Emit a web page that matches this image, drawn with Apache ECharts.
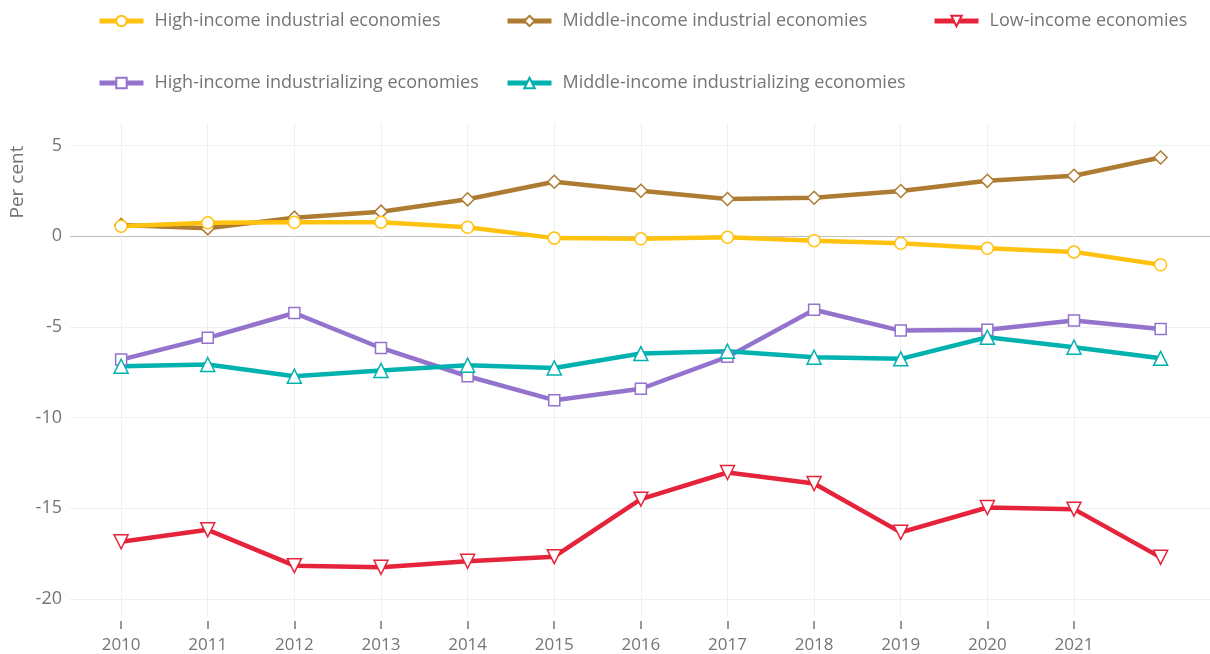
<!DOCTYPE html>
<html>
<head>
<meta charset="utf-8">
<script src="https://cdn.jsdelivr.net/npm/echarts@6/dist/echarts.min.js"></script>
<style>
  html, body { margin: 0; padding: 0; background: #fff; }
  #chart { width: 1210px; height: 654px; }
</style>
</head>
<body>
<div id="chart"></div>
<script>
// Years on the horizontal axis (2022 is plotted but not labelled)
const years = [2010, 2011, 2012, 2013, 2014, 2015, 2016, 2017, 2018, 2019, 2020, 2021, 2022];
const xTickYears = [2010, 2011, 2012, 2013, 2014, 2015, 2016, 2017, 2018, 2019, 2020, 2021];
const yTicks = [-20, -15, -10, -5, 0, 5];

const seriesNames = [
  'High-income industrial economies',
  'Middle-income industrial economies',
  'Low-income economies',
  'High-income industrializing economies',
  'Middle-income industrializing economies'
];

const highIndustrial = [0.55, 0.75, 0.77, 0.78, 0.50, -0.10, -0.14, -0.05, -0.24, -0.38, -0.66, -0.86, -1.57];
const middleIndustrial = [0.63, 0.44, 1.03, 1.36, 2.04, 3.01, 2.51, 2.06, 2.13, 2.50, 3.06, 3.34, 4.35];
const lowIncome = [-16.85, -16.19, -18.17, -18.26, -17.93, -17.67, -14.50, -13.03, -13.64, -16.33, -14.96, -15.05, -17.71];
const highIndustrializing = [-6.80, -5.60, -4.23, -6.16, -7.72, -9.04, -8.41, -6.65, -4.05, -5.20, -5.15, -4.64, -5.11];
const middleIndustrializing = [-7.17, -7.07, -7.72, -7.40, -7.11, -7.26, -6.47, -6.34, -6.67, -6.76, -5.57, -6.12, -6.73];

const FONT = "'Open Sans', 'Noto Sans', sans-serif";
const TEXT_GREY = '#757575';

function pairs(values) {
  return years.map((y, i) => [y, values[i]]);
}

function lineSeries(name, values, color, symbol, size, rotate) {
  return {
    name: name,
    type: 'line',
    data: pairs(values),
    symbol: symbol,
    symbolSize: size,
    symbolRotate: rotate || 0,
    showAllSymbol: true,
    lineStyle: { color: color, width: 4.5 },
    itemStyle: { color: '#fff', borderColor: color, borderWidth: 1.5 },
    emphasis: { disabled: true }
  };
}

const legendBase = {
  orient: 'vertical',
  itemWidth: 44,
  itemHeight: 13,
  itemGap: 44,
  lineStyle: { width: 5 },
  textStyle: { fontFamily: FONT, fontSize: 18, color: TEXT_GREY, padding: [0, 0, 0, 6] },
  selectedMode: false
};

const chart = echarts.init(document.getElementById('chart'), null, { renderer: 'canvas' });

chart.setOption({
  animation: false,
  backgroundColor: '#fff',
  legend: [
    Object.assign({}, legendBase, { left: 92, top: 7, data: [seriesNames[0], seriesNames[3]] }),
    Object.assign({}, legendBase, { left: 500, top: 7, data: [seriesNames[1], seriesNames[4]] }),
    Object.assign({}, legendBase, { left: 927, top: 7, data: [seriesNames[2]] })
  ],
  graphic: [{
    type: 'text',
    x: 18,
    y: 182,
    rotation: Math.PI / 2,
    style: {
      text: 'Per cent',
      fontFamily: FONT,
      fontSize: 19,
      fill: TEXT_GREY,
      align: 'center',
      verticalAlign: 'middle'
    }
  }],
  grid: { left: 70, right: 0, top: 123, bottom: 36, containLabel: false },
  xAxis: {
    type: 'value',
    min: 2009.41,
    max: 2022.57,
    offset: 4,
    axisLine: { show: false, onZero: false },
    axisTick: { show: true, length: 8, customValues: xTickYears, lineStyle: { color: '#777', width: 1.5 } },
    axisLabel: {
      customValues: xTickYears,
      formatter: v => String(v),
      margin: 16,
      fontFamily: FONT,
      fontSize: 17,
      color: TEXT_GREY
    },
    splitLine: { show: true, lineStyle: { color: '#f0f0f0', width: 1 } }
  },
  yAxis: {
    type: 'value',
    min: -21,
    max: 6.25,
    axisLine: { show: false },
    axisTick: { show: false, customValues: yTicks },
    axisLabel: {
      customValues: yTicks,
      margin: 8,
      fontFamily: FONT,
      fontSize: 18,
      color: TEXT_GREY
    },
    splitLine: {
      show: true,
      lineStyle: { color: ['#f0f0f0', '#f0f0f0', '#f0f0f0', '#f0f0f0', '#bdbdbd', '#f0f0f0'], width: 1 }
    }
  },
  series: [
    lineSeries(seriesNames[1], middleIndustrial, '#AD7C32', 'diamond', 13),
    lineSeries(seriesNames[0], highIndustrial, '#FFC20E', 'circle', 12),
    lineSeries(seriesNames[3], highIndustrializing, '#9473CD', 'rect', 11),
    lineSeries(seriesNames[4], middleIndustrializing, '#00B2AE', 'triangle', 14),
    lineSeries(seriesNames[2], lowIncome, '#E5243B', 'triangle', 14, 180)
  ]
});
</script>
</body>
</html>
